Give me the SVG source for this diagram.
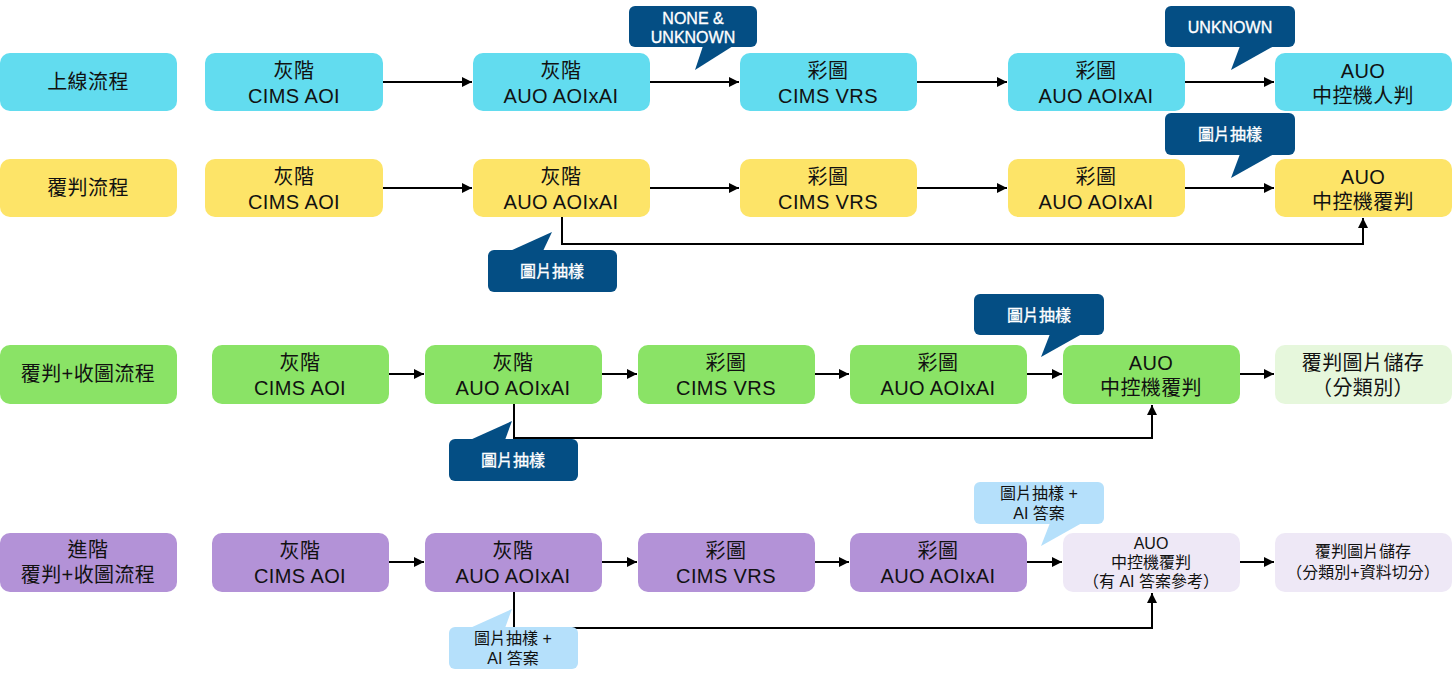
<svg xmlns="http://www.w3.org/2000/svg" width="1452" height="679" viewBox="0 0 1452 679">
<defs>
<marker id="ah" viewBox="0 0 10 10" refX="10" refY="5" markerWidth="10" markerHeight="10" markerUnits="userSpaceOnUse" orient="auto">
<path d="M0,0 L10,5 L0,10 z" fill="#000"/>
</marker>
<style>
text{font-family:"Liberation Sans","Noto Sans CJK TC",sans-serif;text-anchor:middle;fill:#111;}
.n{font-size:20px;letter-spacing:0.4px;}
.s{font-size:16px;}
.c{font-size:16px;fill:#fff;stroke:#fff;stroke-width:0.35px;}
.cl{font-size:16px;fill:#111;}
.cy{fill:#62dcef;}
.ye{fill:#fde468;}
.gr{fill:#8ae366;}
.lg{fill:#e6f7dc;}
.pu{fill:#b392d7;}
.lp{fill:#eee8f6;}
.db{fill:#044e84;}
.lb{fill:#b5e0fb;}
.ln{fill:none;stroke:#000;stroke-width:2;}
</style>
</defs>
<g id="connectors">
<path class="ln" d="M383,82 H472" marker-end="url(#ah)"/>
<path class="ln" d="M650,82 H739" marker-end="url(#ah)"/>
<path class="ln" d="M917,82 H1007" marker-end="url(#ah)"/>
<path class="ln" d="M1185,82 H1274" marker-end="url(#ah)"/>
<path class="ln" d="M383,188 H472" marker-end="url(#ah)"/>
<path class="ln" d="M650,188 H739" marker-end="url(#ah)"/>
<path class="ln" d="M917,188 H1007" marker-end="url(#ah)"/>
<path class="ln" d="M1185,188 H1274" marker-end="url(#ah)"/>
<path class="ln" d="M562,217 V244 H1363 V218" marker-end="url(#ah)"/>
<path class="ln" d="M389,374 H424" marker-end="url(#ah)"/>
<path class="ln" d="M602,374 H637" marker-end="url(#ah)"/>
<path class="ln" d="M815,374 H849" marker-end="url(#ah)"/>
<path class="ln" d="M1027,374 H1062" marker-end="url(#ah)"/>
<path class="ln" d="M1240,374 H1274" marker-end="url(#ah)"/>
<path class="ln" d="M514,404 V438 H1152 V405" marker-end="url(#ah)"/>
<path class="ln" d="M389,562 H424" marker-end="url(#ah)"/>
<path class="ln" d="M602,562 H637" marker-end="url(#ah)"/>
<path class="ln" d="M815,562 H849" marker-end="url(#ah)"/>
<path class="ln" d="M1027,562 H1062" marker-end="url(#ah)"/>
<path class="ln" d="M1240,562 H1274" marker-end="url(#ah)"/>
<path class="ln" d="M514,592 V628 H1152 V593" marker-end="url(#ah)"/>
</g>
<!-- Row 1 -->
<g id="r1-label"><rect class="cy" x="0" y="53" width="177" height="58" rx="10"/><text class="n" x="88" y="89">上線流程</text></g>
<g id="r1-n1"><rect class="cy" x="205" y="53" width="178" height="58" rx="10"/><text class="n" x="294" y="78">灰階</text><text class="n" x="294" y="103">CIMS AOI</text></g>
<g id="r1-n2"><rect class="cy" x="473" y="53" width="177" height="58" rx="10"/><text class="n" x="561" y="78">灰階</text><text class="n" x="561" y="103">AUO AOIxAI</text></g>
<g id="r1-n3"><rect class="cy" x="740" y="53" width="177" height="58" rx="10"/><text class="n" x="828" y="78">彩圖</text><text class="n" x="828" y="103">CIMS VRS</text></g>
<g id="r1-n4"><rect class="cy" x="1008" y="53" width="177" height="58" rx="10"/><text class="n" x="1096" y="78">彩圖</text><text class="n" x="1096" y="103">AUO AOIxAI</text></g>
<g id="r1-n5"><rect class="cy" x="1275" y="53" width="177" height="58" rx="10"/><text class="n" x="1363" y="78">AUO</text><text class="n" x="1363" y="103">中控機人判</text></g>
<g id="r1-c1"><rect class="db" x="629" y="6" width="128" height="41" rx="6"/><path class="db" d="M703,46 L733,46 L695,70 z"/><text class="c" x="693" y="24">NONE &amp;</text><text class="c" x="693" y="43">UNKNOWN</text></g>
<g id="r1-c2"><rect class="db" x="1165" y="6" width="130" height="41" rx="6"/><path class="db" d="M1240,46 L1274,46 L1231,70 z"/><text class="c" x="1230" y="33">UNKNOWN</text></g>
<!-- Row 2 -->
<g id="r2-label"><rect class="ye" x="0" y="159" width="177" height="58" rx="10"/><text class="n" x="88" y="195">覆判流程</text></g>
<g id="r2-n1"><rect class="ye" x="205" y="159" width="178" height="58" rx="10"/><text class="n" x="294" y="184">灰階</text><text class="n" x="294" y="209">CIMS AOI</text></g>
<g id="r2-n2"><rect class="ye" x="473" y="159" width="177" height="58" rx="10"/><text class="n" x="561" y="184">灰階</text><text class="n" x="561" y="209">AUO AOIxAI</text></g>
<g id="r2-n3"><rect class="ye" x="740" y="159" width="177" height="58" rx="10"/><text class="n" x="828" y="184">彩圖</text><text class="n" x="828" y="209">CIMS VRS</text></g>
<g id="r2-n4"><rect class="ye" x="1008" y="159" width="177" height="58" rx="10"/><text class="n" x="1096" y="184">彩圖</text><text class="n" x="1096" y="209">AUO AOIxAI</text></g>
<g id="r2-n5"><rect class="ye" x="1275" y="159" width="177" height="58" rx="10"/><text class="n" x="1363" y="184">AUO</text><text class="n" x="1363" y="209">中控機覆判</text></g>
<g id="r2-c1"><rect class="db" x="1165" y="113" width="130" height="42" rx="6"/><path class="db" d="M1240,154 L1274,154 L1231,178 z"/><text class="c" x="1230" y="140">圖片抽樣</text></g>
<g id="r2-c2"><rect class="db" x="488" y="250" width="129" height="42" rx="6"/><path class="db" d="M510,251 L543,251 L552,232 z"/><text class="c" x="552" y="277">圖片抽樣</text></g>
<!-- Row 3 -->
<g id="r3-label"><rect class="gr" x="0" y="345" width="177" height="59" rx="10"/><text class="n" x="88" y="381">覆判+收圖流程</text></g>
<g id="r3-n1"><rect class="gr" x="212" y="345" width="177" height="59" rx="10"/><text class="n" x="300" y="370">灰階</text><text class="n" x="300" y="395">CIMS AOI</text></g>
<g id="r3-n2"><rect class="gr" x="425" y="345" width="177" height="59" rx="10"/><text class="n" x="513" y="370">灰階</text><text class="n" x="513" y="395">AUO AOIxAI</text></g>
<g id="r3-n3"><rect class="gr" x="638" y="345" width="177" height="59" rx="10"/><text class="n" x="726" y="370">彩圖</text><text class="n" x="726" y="395">CIMS VRS</text></g>
<g id="r3-n4"><rect class="gr" x="850" y="345" width="177" height="59" rx="10"/><text class="n" x="938" y="370">彩圖</text><text class="n" x="938" y="395">AUO AOIxAI</text></g>
<g id="r3-n5"><rect class="gr" x="1063" y="345" width="177" height="59" rx="10"/><text class="n" x="1151" y="370">AUO</text><text class="n" x="1151" y="395">中控機覆判</text></g>
<g id="r3-n6"><rect class="lg" x="1275" y="345" width="177" height="59" rx="10"/><text class="n" x="1363" y="370">覆判圖片儲存</text><text class="n" x="1363" y="395">（分類別）</text></g>
<g id="r3-c1"><rect class="db" x="974" y="294" width="130" height="41" rx="6"/><path class="db" d="M1050,334 L1082,334 L1041,357 z"/><text class="c" x="1039" y="321">圖片抽樣</text></g>
<g id="r3-c2"><rect class="db" x="449" y="439" width="129" height="42" rx="6"/><path class="db" d="M470,440 L505,440 L512,421 z"/><text class="c" x="513" y="466">圖片抽樣</text></g>
<!-- Row 4 -->
<g id="r4-label"><rect class="pu" x="0" y="533" width="177" height="59" rx="10"/><text class="n" x="88" y="557">進階</text><text class="n" x="88" y="582">覆判+收圖流程</text></g>
<g id="r4-n1"><rect class="pu" x="212" y="533" width="177" height="59" rx="10"/><text class="n" x="300" y="558">灰階</text><text class="n" x="300" y="583">CIMS AOI</text></g>
<g id="r4-n2"><rect class="pu" x="425" y="533" width="177" height="59" rx="10"/><text class="n" x="513" y="558">灰階</text><text class="n" x="513" y="583">AUO AOIxAI</text></g>
<g id="r4-n3"><rect class="pu" x="638" y="533" width="177" height="59" rx="10"/><text class="n" x="726" y="558">彩圖</text><text class="n" x="726" y="583">CIMS VRS</text></g>
<g id="r4-n4"><rect class="pu" x="850" y="533" width="177" height="59" rx="10"/><text class="n" x="938" y="558">彩圖</text><text class="n" x="938" y="583">AUO AOIxAI</text></g>
<g id="r4-n5"><rect class="lp" x="1063" y="533" width="177" height="59" rx="10"/><text class="s" x="1151" y="549">AUO</text><text class="s" x="1151" y="568">中控機覆判</text><text class="s" x="1151" y="587">（有 AI 答案參考）</text></g>
<g id="r4-n6"><rect class="lp" x="1275" y="533" width="177" height="59" rx="10"/><text class="s" x="1363" y="557">覆判圖片儲存</text><text class="s" x="1363" y="578">（分類別+資料切分）</text></g>
<g id="r4-c1"><rect class="lb" x="974" y="482" width="130" height="42" rx="6"/><path class="lb" d="M1050,523 L1082,523 L1041,546 z"/><text class="cl" x="1039" y="499">圖片抽樣 +</text><text class="cl" x="1039" y="519">AI 答案</text></g>
<g id="r4-c2"><rect class="lb" x="449" y="627" width="129" height="42" rx="6"/><path class="lb" d="M470,628 L505,628 L512,609 z"/><text class="cl" x="513" y="644">圖片抽樣 +</text><text class="cl" x="513" y="664">AI 答案</text></g>
</svg>
